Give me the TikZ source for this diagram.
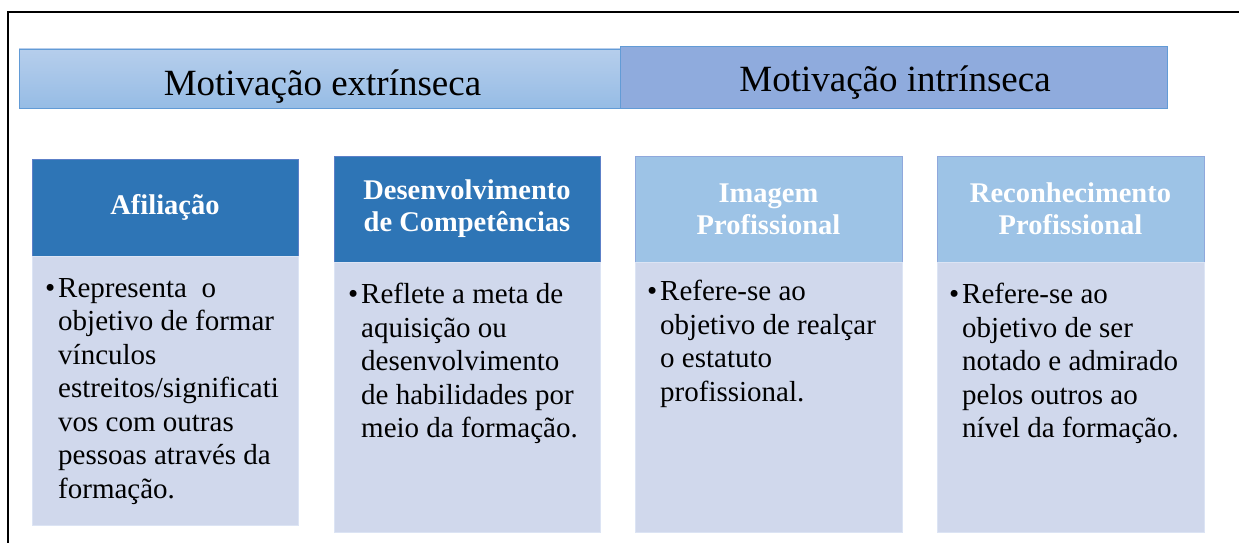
\documentclass[tikz,border=0pt]{standalone}
\usepackage{fontspec}
\setmainfont{Liberation Serif}
\usetikzlibrary{positioning}
\definecolor{barTop}{RGB}{182,206,236}
\definecolor{barBot}{RGB}{150,188,229}
\definecolor{barEdge}{RGB}{98,155,214}
\definecolor{barInt}{RGB}{143,171,221}
\definecolor{headDark}{RGB}{46,117,182}
\definecolor{headDarkEdge}{RGB}{92,128,200}
\definecolor{headLight}{RGB}{157,195,230}
\definecolor{headLightEdge}{RGB}{143,168,220}
\definecolor{bodyFill}{RGB}{208,216,236}
\definecolor{bodyEdge}{RGB}{220,228,244}
\newcommand{\titlefont}{\fontsize{37}{44}\selectfont}
\newcommand{\headfont}{\fontsize{28.5}{32}\selectfont\bfseries}
\newcommand{\bodyfont}{\fontsize{29}{33.5}\selectfont}
\newcommand{\bul}{\llap{\textbullet\hspace{3pt}}}
\tikzset{
    box/.style={rectangle, inner sep=0pt, outer sep=0pt, line width=0.8pt},
    % title bars
    bar_ext/.style = {box, draw=barEdge, top color=barTop, bottom color=barBot, minimum width=601pt, minimum height=59pt},
    bar_int/.style = {box, draw=barEdge, fill=barInt, minimum width=547pt, minimum height=62pt},
    bar_text/.style = {anchor=base, inner sep=0pt, font=\titlefont},
    % column headers
    head_dark/.style = {box, draw=headDarkEdge, fill=headDark, text=white, font=\headfont, align=center, minimum width=266pt},
    head_light/.style = {box, draw=headLightEdge, fill=headLight, text=white, font=\headfont, align=center, minimum width=267pt, minimum height=106pt},
    % column bodies
    body_box/.style = {box, draw=bodyEdge, fill=bodyFill, minimum width=266pt, minimum height=270pt},
    body_text/.style = {anchor=north west, inner sep=0pt, align=left, font=\bodyfont}
}

\begin{document}
\begin{tikzpicture}[x=1pt, y=-1pt]
    \useasboundingbox (0,0) rectangle (1239,543);

    % frame
    \coordinate (fr_bl) at (8,543);
    \coordinate (fr_tl) at (8,12);
    \coordinate (fr_tr) at (1239,12);
    \draw[line width=1.3pt] (fr_bl) -- (fr_tl) -- (fr_tr);

    % titles
    \node[bar_ext] (extr) at (319.5,78.5) {};
    \node[bar_int] (intr) at (893.5,77) {};
    \node[bar_text] (extr_lbl) at ([xshift=3pt, yshift=-16.5pt]extr.center) {Motivação extrínseca};
    \node[bar_text] (intr_lbl) at ([xshift=1.5pt, yshift=-15pt]intr.center) {Motivação intrínseca};

    % columns
    \node[head_dark, minimum height=97pt] (afil) at (165,207.5) {Afiliação};
    \node[body_box, below=0pt of afil, minimum height=269pt] (afil_body) {};
    \node[body_text] (afil_txt) at ([xshift=26pt, yshift=-22pt]afil_body.north west)
        {\bul Representa~~o\\objetivo de formar\\vínculos\\estreitos/significati\\vos com outras\\pessoas através da\\formação.};

    \node[head_dark, minimum height=106pt] (desenv) at (467,209) {Desenvolvimento\\de Competências};
    \node[body_box, below=0pt of desenv] (desenv_body) {};
    \node[body_text] (desenv_txt) at ([xshift=27pt, yshift=-21pt]desenv_body.north west)
        {\bul Reflete a meta de\\aquisição ou\\desenvolvimento\\de habilidades por\\meio da formação.};

    \node[head_light] (imag) at (768.5,209) {Imagem\\Profissional};
    \node[body_box, below=0pt of imag, minimum width=267pt] (imag_body) {};
    \node[body_text] (imag_txt) at ([xshift=25pt, yshift=-18pt]imag_body.north west)
        {\bul Refere-se ao\\objetivo de realçar\\o estatuto\\profissional.};

    \node[head_light] (recon) at (1070.5,209) {Reconhecimento\\Profissional};
    \node[body_box, below=0pt of recon, minimum width=267pt] (recon_body) {};
    \node[body_text] (recon_txt) at ([xshift=25pt, yshift=-21pt]recon_body.north west)
        {\bul Refere-se ao\\objetivo de ser\\notado e admirado\\pelos outros ao\\nível da formação.};
\end{tikzpicture}
\end{document}
